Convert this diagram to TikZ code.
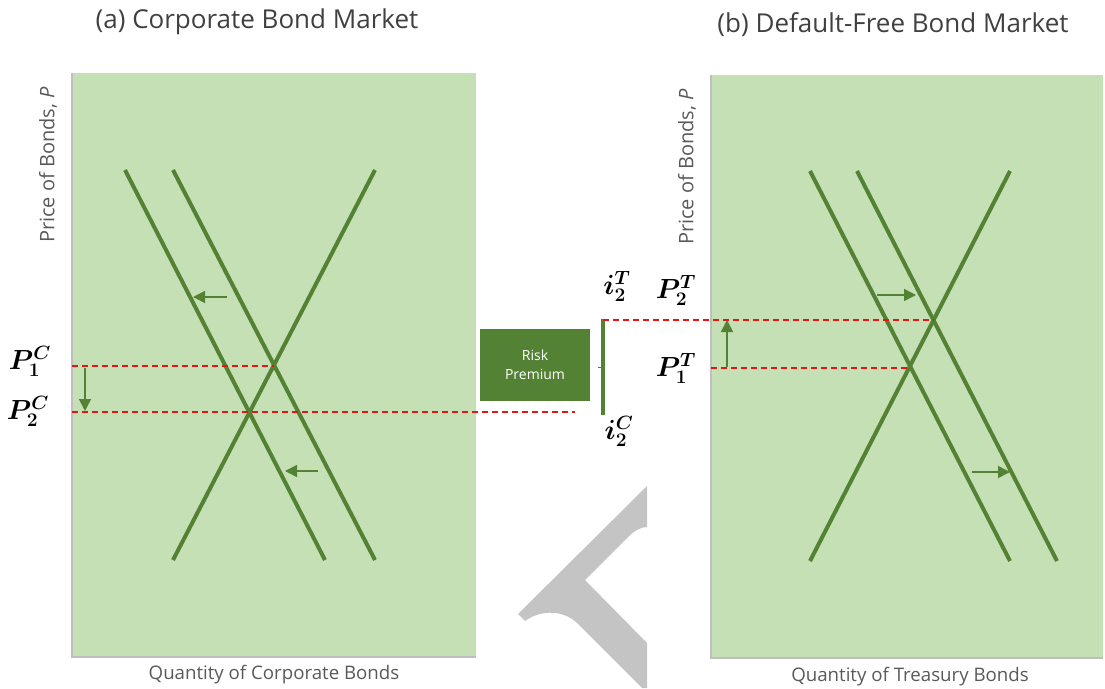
\documentclass[tikz,border=0pt]{standalone}
\usepackage{fontspec}
\setmainfont{Open Sans}
\usepackage{amsmath}
\usepackage{bm}
\usetikzlibrary{arrows.meta,positioning}

\definecolor{panelgreen}{RGB}{197,224,180}
\definecolor{curvegreen}{RGB}{84,130,53}
\definecolor{axisgray}{RGB}{191,191,191}
\definecolor{labelgray}{RGB}{89,89,89}
\definecolor{titlegray}{RGB}{64,64,64}
\definecolor{markgray}{RGB}{196,196,196}
\definecolor{guidered}{RGB}{230,20,20}

\begin{document}
\begin{tikzpicture}[
        x=0.75pt, y=-0.75pt,
        axisline/.style={draw=axisgray, line width=1.5pt},
        curve/.style={draw=curvegreen, line width=3pt},
        shiftarrow/.style={draw=curvegreen, line width=1.1pt, -{Triangle[length=9pt,width=9pt]}},
        guide/.style={draw=guidered, line width=0.9pt, dash pattern=on 4.5pt off 3pt},
        price/.style={font=\fontsize{21}{24}\selectfont, inner sep=0pt},
        axislabel/.style={text=labelgray, font=\fontsize{14}{17}\selectfont},
        pricelabel/.style={axislabel, rotate=90, font=\fontsize{15}{18}\selectfont},
        paneltitle/.style={text=titlegray, font=\fontsize{19.5}{23}\selectfont}
      ]
      \useasboundingbox (0,0) rectangle (1105,688);

      % panels
      \fill[panelgreen] (72,73) rectangle (476,657);
      \draw[axisline] (72,73) -- (72,657) -- (476,657);
      \fill[panelgreen] (711,75) rectangle (1103,658);
      \draw[axisline] (711,75) -- (711,658) -- (1103,658);

      % watermark piece
      \fill[markgray] (647,486) -- (518,614) -- (525,621)
        .. controls (540,610) and (565,608) .. (581,627)
        -- (642,688) -- (647,688) -- (647,643) -- (585,580) -- (627,538)
        .. controls (635,530) and (641,527) .. (647,527) -- cycle;

      \node[paneltitle] (titlea) at (257,22) {(a) Corporate Bond Market};
      \node[paneltitle] (titleb) at (893,25) {(b) Default-Free Bond Market};
      \node[pricelabel] (pricea) at (48,165) {Price of Bonds, \textit{P}};
      \node[pricelabel] (priceb) at (687,167) {Price of Bonds, \textit{P}};
      \node[axislabel] (quanta) at (274,675) {Quantity of Corporate Bonds};
      \node[axislabel] (quantb) at (910,677) {Quantity of Treasury Bonds};

      % corporate market
      \coordinate (dca1) at (173,170);
      \coordinate (dca2) at (375,560);
      \coordinate (dcb1) at (125,170);
      \coordinate (dcb2) at (325,560);
      \coordinate (sc1) at (173,560);
      \coordinate (sc2) at (375,170);
      \coordinate (ec1) at (274,366);
      \coordinate (ec2) at (249,412);
      \draw[curve] (dca1) -- (dca2);
      \draw[curve] (dcb1) -- (dcb2);
      \draw[curve] (sc1) -- (sc2);
      \draw[guide] (72,366) -- (ec1);
      \draw[guide] (72,412) -- (575,412);
      \draw[shiftarrow] (227,297) -- (193,297);
      \draw[shiftarrow] (318,471) -- (285,471);
      \draw[shiftarrow] (85,368) -- (85,411);
      \node[price] (p1c) at (30,361) {$\bm{P_1^C}$};
      \node[price] (p2c) at (28,411) {$\bm{P_2^C}$};

      % risk premium
      \node[fill=curvegreen, text=white, minimum width=82.5pt, minimum height=54pt,
        align=center, font=\fontsize{10.5}{14}\selectfont] (risk) at (535,365) {Risk\\Premium};
      \coordinate (bartop) at (603,319);
      \coordinate (barbot) at (603,415);
      \draw[curvegreen, line width=2.3pt] (bartop) -- (barbot);
      \draw[curvegreen, line width=0.6pt] (598,367) -- (603,367);
      \node[price] (i2t) at (617,286) {$\bm{i_2^T}$};
      \node[price] (i2c) at (619,431) {$\bm{i_2^C}$};

      % treasury market
      \coordinate (dta1) at (810,171);
      \coordinate (dta2) at (1010,561);
      \coordinate (dtb1) at (857,171);
      \coordinate (dtb2) at (1057,561);
      \coordinate (st1) at (810,561);
      \coordinate (st2) at (1010,171);
      \coordinate (et1) at (910,366);
      \coordinate (et2) at (933.5,320);
      \draw[curve] (dta1) -- (dta2);
      \draw[curve] (dtb1) -- (dtb2);
      \draw[curve] (st1) -- (st2);
      \draw[guide] (603,320) -- (et2);
      \draw[guide] (711,368) -- (et1 |- 0,368);
      \draw[shiftarrow] (877,295) -- (916,295);
      \draw[shiftarrow] (972,472) -- (1010,472);
      \draw[shiftarrow] (727,367) -- (727,320);
      \node[price] (p2t) at (676,290) {$\bm{P_2^T}$};
      \node[price] (p1t) at (676,368) {$\bm{P_1^T}$};
    \end{tikzpicture}
\end{document}
